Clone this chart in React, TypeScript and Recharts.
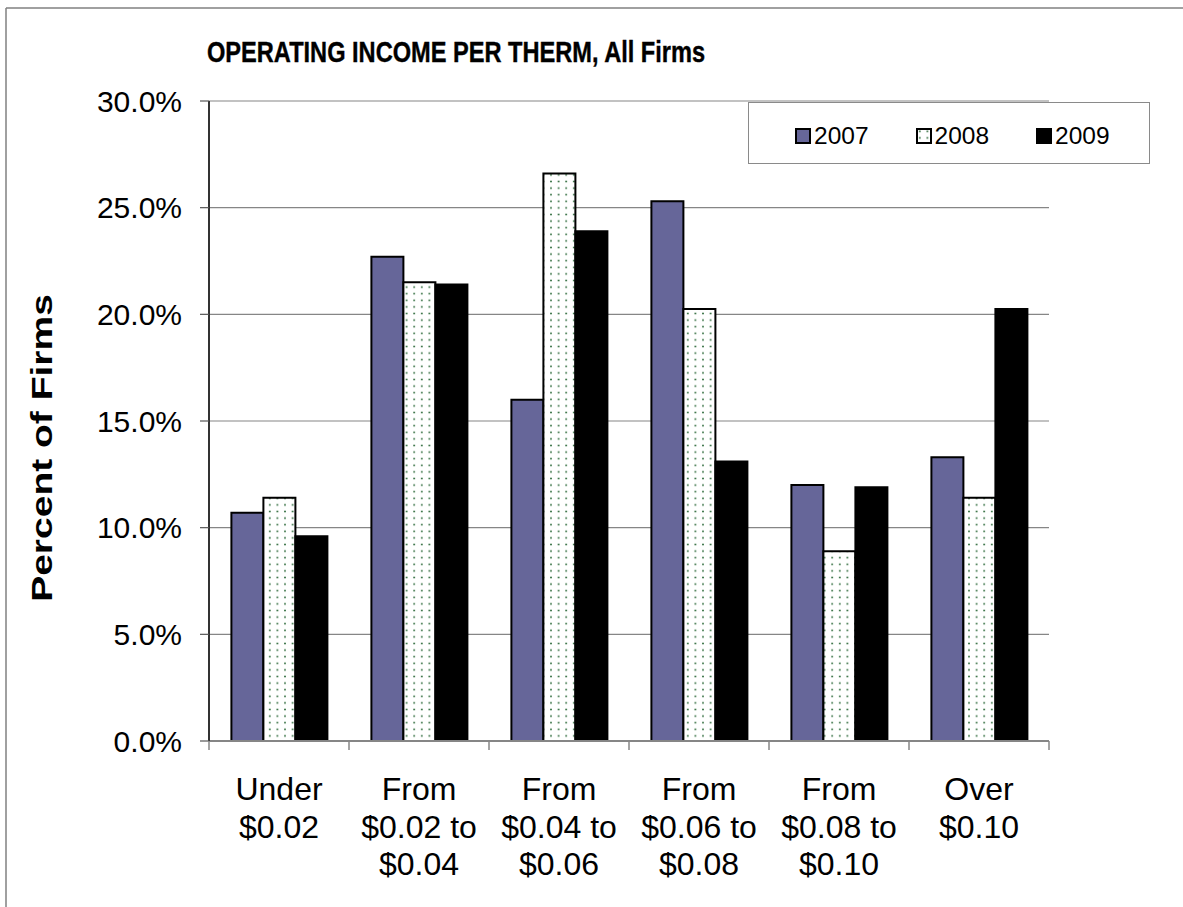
import React from 'react';
import { BarChart, Bar, XAxis, YAxis, CartesianGrid, Legend } from 'recharts';

const categories = [
  ['Under', '$0.02'],
  ['From', '$0.02 to', '$0.04'],
  ['From', '$0.04 to', '$0.06'],
  ['From', '$0.06 to', '$0.08'],
  ['From', '$0.08 to', '$0.10'],
  ['Over', '$0.10'],
];
const values2007 = [10.7, 22.7, 16.0, 25.3, 12.0, 13.3];
const values2008 = [11.4, 21.5, 26.6, 20.25, 8.9, 11.4];
const values2009 = [9.6, 21.4, 23.9, 13.1, 11.9, 20.25];
const yTicks = [0, 5, 10, 15, 20, 25, 30];
const seriesNames = ['2007', '2008', '2009'];

const FONT = '"Liberation Sans", Arial, sans-serif';
const W = 1183;
const H = 907;
const M_TOP = 101;
const M_RIGHT = 134;
const Y_AXIS_W = 209;
const X_AXIS_H = 166;
const PLOT_W = W - M_RIGHT - Y_AXIS_W;
const BAND = PLOT_W / categories.length;

const data = categories.map((c, i) => ({
  key: c.join(' '),
  lines: c,
  v2007: values2007[i],
  v2008: values2008[i],
  v2009: values2009[i],
}));

const XTick = (props: any) => {
  const { x, y, payload, index } = props;
  const lines: string[] = data[index] ? data[index].lines : [String(payload.value)];
  return (
    <g>
      <line x1={x - BAND / 2} y1={y} x2={x - BAND / 2} y2={y + 9} stroke="#868686" strokeWidth={1.5} />
      {index === categories.length - 1 && (
        <line x1={x + BAND / 2} y1={y} x2={x + BAND / 2} y2={y + 9} stroke="#868686" strokeWidth={1.5} />
      )}
      <text x={x} y={y} textAnchor="middle" fontFamily={FONT} fontSize={32} fill="#000">
        {lines.map((l, i) => (
          <tspan key={i} x={x} y={y + 59 + i * 37.5}>{l}</tspan>
        ))}
      </text>
    </g>
  );
};

const LegendBox = () => {
  const fills = ['#666699', 'url(#dots)', '#000000'];
  return (
    <div
      style={{
        position: 'relative',
        width: '100%',
        height: '100%',
        boxSizing: 'border-box',
        border: '1.5px solid #8a8a8a',
        background: '#fff',
        fontFamily: FONT,
      }}
    >
      {seriesNames.map((n, i) => (
        <div
          key={n}
          style={{
            position: 'absolute',
            left: 46 + i * 120.5,
            top: 19,
            height: 28,
            display: 'flex',
            alignItems: 'center',
          }}
        >
          <svg width={16} height={16} style={{ display: 'block' }}>
            <rect x={1} y={1} width={14} height={14} fill={fills[i]} stroke="#000" strokeWidth={2} />
          </svg>
          <span style={{ fontSize: 24.5, marginLeft: 3, color: '#000', lineHeight: '28px' }}>{n}</span>
        </div>
      ))}
    </div>
  );
};

export default function App() {
  return (
    <div style={{ position: 'absolute', left: 0, top: 0, width: W, height: H, background: '#fff' }}>
      <BarChart
        width={W}
        height={H}
        data={data}
        margin={{ top: M_TOP, right: M_RIGHT, bottom: 0, left: 0 }}
        barCategoryGap="16%"
        barGap={0}
      >
        <defs>
          <pattern id="dots" patternUnits="userSpaceOnUse" width={7.6} height={6.6}>
            <rect x={0} y={0} width={7.6} height={6.6} fill="#ffffff" />
            <circle cx={3.8} cy={3.3} r={0.95} fill="#2f6b3c" />
          </pattern>
        </defs>
        <CartesianGrid vertical={false} stroke="#868686" strokeWidth={1.2} />
        <XAxis
          dataKey="key"
          height={X_AXIS_H}
          interval={0}
          tickLine={false}
          tickSize={0}
          tickMargin={0}
          axisLine={{ stroke: '#868686', strokeWidth: 2 }}
          tick={<XTick />}
        />
        <YAxis
          width={Y_AXIS_W}
          domain={[0, 30]}
          ticks={yTicks}
          interval={0}
          tickSize={9}
          tickMargin={18}
          tickFormatter={(v: number) => `${v.toFixed(1)}%`}
          tick={{ fontFamily: FONT, fontSize: 30, fill: '#000' }}
          tickLine={{ stroke: '#555', strokeWidth: 1.2 }}
          axisLine={{ stroke: '#333', strokeWidth: 2 }}
        />
        <YAxis
          yAxisId="right"
          orientation="right"
          width={0}
          tick={false}
          tickLine={false}
          axisLine={{ stroke: '#868686', strokeWidth: 1.5 }}
        />
        <Legend
          layout="vertical"
          align="center"
          verticalAlign="middle"
          wrapperStyle={{ left: 748, top: 102, width: 402, height: 62 }}
          content={<LegendBox />}
        />
        <Bar dataKey="v2007" name="2007" fill="#666699" stroke="#000" strokeWidth={2} isAnimationActive={false} />
        <Bar dataKey="v2008" name="2008" fill="url(#dots)" stroke="#000" strokeWidth={2} isAnimationActive={false} />
        <Bar dataKey="v2009" name="2009" fill="#000000" stroke="#000" strokeWidth={2} isAnimationActive={false} />
      </BarChart>
      <svg
        width={W}
        height={H}
        style={{ position: 'absolute', left: 0, top: 0, pointerEvents: 'none' }}
      >
        <line x1={6} y1={8} x2={W} y2={8} stroke="#808080" strokeWidth={1.5} />
        <line x1={6} y1={8} x2={6} y2={H} stroke="#808080" strokeWidth={1.5} />
        <text
          x={0}
          y={0}
          transform="translate(207, 61.5) scale(0.8, 1)"
          fontFamily={FONT}
          fontSize={29.5}
          fontWeight="bold"
          fill="#000"
          stroke="#000"
          strokeWidth={0.4}
        >
          OPERATING INCOME PER THERM, All Firms
        </text>
        <text
          x={0}
          y={0}
          transform="translate(51.5, 448) rotate(-90) scale(1.3, 1)"
          textAnchor="middle"
          fontFamily={FONT}
          fontSize={30}
          fontWeight="bold"
          fill="#000"
        >
          Percent of Firms
        </text>
      </svg>
    </div>
  );
}
